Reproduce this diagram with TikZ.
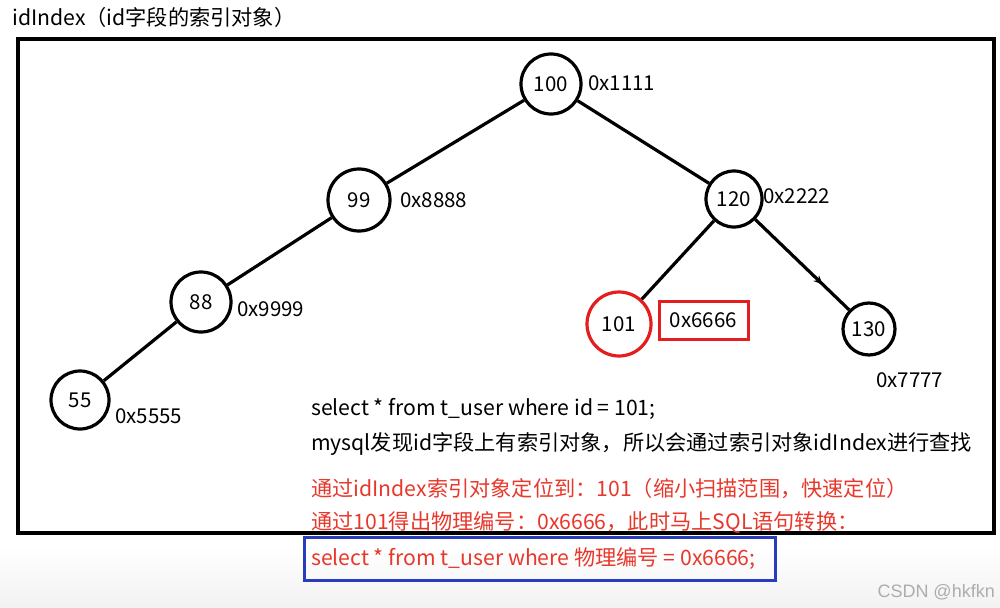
\documentclass[tikz,border=0pt]{standalone}
\usepackage{fontspec}
\setmainfont{Noto Sans CJK SC}
\newfontfamily\wmfont{Liberation Sans}
\usetikzlibrary{decorations.markings,arrows.meta}
\definecolor{txtred}{RGB}{232,56,44}
\definecolor{circred}{RGB}{228,30,30}
\definecolor{boxblue}{RGB}{40,60,190}
\begin{document}
\begin{tikzpicture}[x=1pt,y=-1pt,
  nd/.style={circle,draw,line width=3.2pt,inner sep=0pt,font=\fontsize{20.5}{24}\selectfont},
  lbl/.style={font=\fontsize{20.5}{24}\selectfont,inner sep=0pt,anchor=base west},
  txt/.style={font=\fontsize{21.2}{25}\selectfont,inner sep=0pt,anchor=base west},
  edge/.style={line width=3.2pt}]
\useasboundingbox (0,0) rectangle (1000,607);
\fill[white] (0,0) rectangle (1000,607);
\shade[top color=white,bottom color=black!5] (0,545) rectangle (1000,607);

% title
\node[txt] (title) at (12,26) {idIndex（id字段的索引对象）};

% frame
\draw[line width=4pt] (18,39) rectangle (994,533);

% tree nodes
\node[nd,minimum size=60pt] (n100) at (551,84) {100};
\node[nd,minimum size=62pt] (n99) at (359,200) {99};
\node[nd,minimum size=56pt] (n120) at (734,199) {120};
\node[nd,minimum size=60pt] (n88) at (201,302) {88};
\node[nd,minimum size=58pt] (n55) at (80,400) {55};
\node[nd,draw=circred,minimum size=64pt] (n101) at (619,324) {101};
\node[nd,minimum size=52pt] (n130) at (869,329) {130};

% address labels
\node[lbl] (a100) at (588,91) {0x1111};
\node[lbl] (a99) at (400,207) {0x8888};
\node[lbl] (a120) at (763,203) {0x2222};
\node[lbl] (a88) at (237,316) {0x9999};
\node[lbl] (a55) at (115,423) {0x5555};
\node[lbl] (a130) at (876,387) {0x7777};
\node[font=\fontsize{20.5}{24}\selectfont,draw=circred,line width=3pt,minimum width=89pt,minimum height=38pt,inner sep=0pt] (a101) at (703.5,320) {0x6666};

% edges
\draw[edge] (n100) -- (n99);
\draw[edge] (n100) -- (n120);
\draw[edge] (n99) -- (n88);
\draw[edge] (n88) -- (n55);
\draw[edge] (n120) -- (n101);
\draw[edge,decoration={markings,mark=at position 0.72 with {\arrow{Stealth[length=9pt,width=8pt]}}},postaction={decorate}] (n120) -- (n130);

% explanation text
\node[txt] (t1) at (311,415) {select * from t\_user where id = 101;};
\node[txt] (t2) at (311,450) {mysql发现id字段上有索引对象，所以会通过索引对象idIndex进行查找};
\node[txt,text=txtred] (t3) at (311,496) {通过idIndex索引对象定位到：101（缩小扫描范围，快速定位）};
\node[txt,text=txtred] (t4) at (311,529) {通过101得出物理编号：0x6666，此时马上SQL语句转换：};
\node[txt,text=txtred] (t5) at (311,565) {select * from t\_user where 物理编号 = 0x6666;};
\draw[boxblue,line width=3pt] (304,537) rectangle (775,580);

% watermark
\node[font=\wmfont\fontsize{18}{20}\selectfont,text=black!32,inner sep=0pt,anchor=base east] (wm) at (995,597) {CSDN @hkfkn};
\end{tikzpicture}
\end{document}
